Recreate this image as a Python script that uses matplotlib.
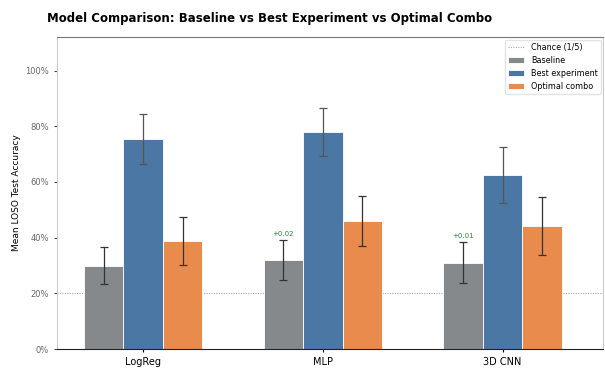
import numpy as np
import matplotlib.pyplot as plt
from matplotlib.ticker import PercentFormatter

# mean LOSO accuracy per model and setup, with std across folds
models = ['LogReg', 'MLP', '3D CNN']
baseline = [0.30, 0.32, 0.31]
baseline_err = [0.067, 0.072, 0.074]
best_exp = [0.755, 0.78, 0.626]
best_exp_err = [0.09, 0.087, 0.10]
optimal = [0.388, 0.46, 0.442]
optimal_err = [0.085, 0.09, 0.105]
chance = 0.2

c_base = '#85898c'
c_best = '#4a77a3'
c_opt = '#ea8b4e'

x = np.arange(len(models))
w = 0.22

fig, ax = plt.subplots(figsize=(6.05, 3.71), dpi=100)
fig.subplots_adjust(left=0.094, right=0.997, top=0.90, bottom=0.059)

ax.axhline(chance, color='#aaaaaa', linestyle=(0, (1, 1.2)), linewidth=0.8, label='Chance (1/5)', zorder=1)
err_kw = dict(ecolor='#333333', elinewidth=0.9, capsize=3, capthick=0.9)
ax.bar(x - w, baseline, w, yerr=baseline_err, color=c_base, edgecolor='white',
       linewidth=0.6, label='Baseline', error_kw=err_kw, zorder=2)
ax.bar(x, best_exp, w, yerr=best_exp_err, color=c_best, edgecolor='white',
       linewidth=0.6, label='Best experiment', error_kw=dict(err_kw, ecolor='#555555'), zorder=2)
ax.bar(x + w, optimal, w, yerr=optimal_err, color=c_opt, edgecolor='white',
       linewidth=0.6, label='Optimal combo', error_kw=err_kw, zorder=2)

# gain of each baseline over the LogReg baseline
for i in range(1, len(models)):
    diff = baseline[i] - baseline[0]
    ax.text(x[i] - w, baseline[i] + baseline_err[i] + 0.012, '+{:.2f}'.format(diff),
            ha='center', va='bottom', fontsize=5, color='#2e7d3e')

ax.set_xticks(x)
ax.set_xticklabels(models, fontsize=7)
ax.set_xlim(-0.48, 2.56)
ax.set_ylim(0, 1.12)
ax.set_yticks([0, 0.2, 0.4, 0.6, 0.8, 1.0])
ax.yaxis.set_major_formatter(PercentFormatter(1.0, decimals=0))
ax.tick_params(axis='y', labelsize=6, labelcolor='#666666', color='#444444', length=2)
ax.tick_params(axis='x', length=2)
ax.set_ylabel('Mean LOSO Test Accuracy', fontsize=6.5, labelpad=3)
ax.set_title('Model Comparison: Baseline vs Best Experiment vs Optimal Combo',
             fontsize=8.5, fontweight='bold', x=0.39, pad=11)

for s in ['left', 'right']:
    ax.spines[s].set_color('#cccccc')
ax.spines['top'].set_color('#777777')
ax.spines['bottom'].set_color('#222222')

ax.legend(loc='upper right', fontsize=5.8, frameon=True, edgecolor='#dddddd',
          borderaxespad=0.3)

plt.savefig('out.png', dpi=100)
